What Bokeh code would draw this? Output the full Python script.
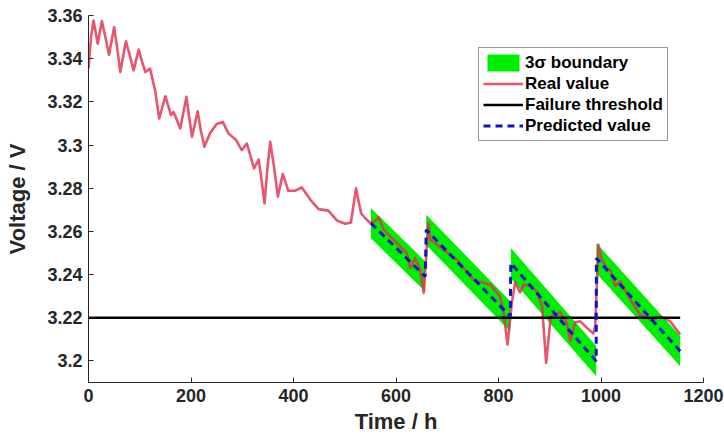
from bokeh.plotting import figure
from bokeh.models import (Range1d, FixedTicker, CustomJSTickFormatter, Legend,
                          LegendItem)
from bokeh.embed import file_html
from bokeh.resources import INLINE

# ---------------- data ----------------
time_real = [0, 5, 9.8, 18, 26, 33, 40, 50, 56, 62, 73, 80, 88, 98, 104, 111, 120,
             130, 138, 150, 161, 166, 170, 179, 191, 197, 202, 213, 219, 226, 237,
             250, 262, 273, 288, 299, 309, 316, 323, 332, 337, 343.5, 349, 354.5,
             362, 369.5, 379, 390, 403, 416, 433, 449, 468, 485, 501, 512, 517, 522,
             527, 532, 540, 550, 563, 566, 576, 602, 621, 628, 637.5, 647, 654, 658,
             663, 667, 690, 719, 751, 784, 803, 810, 817.6, 826, 832.6, 842, 849,
             862, 875, 885, 893, 902, 920, 933.5, 940, 949.6, 959.4, 972.5, 985,
             988.7, 995, 1001.7, 1011.5, 1018, 1027.7, 1037.5, 1057, 1076.5, 1096,
             1115.5, 1135, 1154.5]
volt_real = [3.3354, 3.3500, 3.3577, 3.3469, 3.3574, 3.3500, 3.3418, 3.3546, 3.3450,
             3.3338, 3.3481, 3.3420, 3.3346, 3.3442, 3.3390, 3.3338, 3.3354, 3.3253,
             3.3123, 3.3226, 3.3138, 3.3153, 3.3130, 3.3077, 3.3223, 3.3120, 3.3038,
             3.3156, 3.3070, 3.2992, 3.3054, 3.3097, 3.3107, 3.3054, 3.3023, 3.2976,
             3.3007, 3.2950, 3.2892, 3.2933, 3.2850, 3.2730, 3.2890, 3.3015, 3.2900,
             3.2761, 3.2866, 3.2788, 3.2788, 3.2804, 3.2746, 3.2703, 3.2696, 3.2650,
             3.2635, 3.2641, 3.2720, 3.2800, 3.2740, 3.2684, 3.2661, 3.2638, 3.2656,
             3.2666, 3.2607, 3.2545, 3.2500, 3.2430, 3.2476, 3.2422, 3.2315, 3.2450,
             3.2640, 3.2561, 3.2520, 3.2468, 3.2376, 3.2353, 3.2299, 3.2222, 3.2076,
             3.2268, 3.2364, 3.2317, 3.2353, 3.2348, 3.2322, 3.2253, 3.1991, 3.2206,
             3.2225, 3.2176, 3.2091, 3.2179, 3.2183, 3.2153, 3.2127, 3.2160, 3.2538,
             3.2468, 3.2430, 3.2422, 3.2348, 3.2368, 3.2284, 3.2214, 3.2191, 3.2206,
             3.2183, 3.2122]

time_pred = [551, 657, 659, 823, 824, 990.6, 991, 1154.5]
volt_pred = [3.2638, 3.2391, 3.2607, 3.2206, 3.2453, 3.1999, 3.2476, 3.2045]
sigma3 = 0.007

threshold = 3.22
threshold_span = [0, 1154.5]

x_ticks = [0, 200, 400, 600, 800, 1000, 1200]
y_ticks = [3.2, 3.22, 3.24, 3.26, 3.28, 3.3, 3.32, 3.34, 3.36]

# ---------------- figure ----------------
FONT = "Liberation Sans"
p = figure(width=724, height=436, output_backend="svg", toolbar_location=None,
           x_range=Range1d(0, 1200), y_range=Range1d(3.19, 3.36),
           min_border_left=88, min_border_right=21, min_border_top=15,
           min_border_bottom=53)
p.outline_line_color = None
p.grid.visible = False
p.background_fill_color = "white"

# 3 sigma band per prediction segment
band_xs, band_ys = [], []
for i in range(0, len(time_pred), 2):
    t0, t1 = time_pred[i], time_pred[i + 1]
    v0, v1 = volt_pred[i], volt_pred[i + 1]
    band_xs.append([t0, t1, t1, t0])
    band_ys.append([v0 + sigma3, v1 + sigma3, v1 - sigma3, v0 - sigma3])
band = p.patches(band_xs, band_ys, fill_color="#00ee00", line_color=None)

real = p.line(time_real, volt_real, line_color="#e2304f", line_alpha=0.82,
              line_width=2.6, line_join="round")
thr = p.line(threshold_span, [threshold, threshold], line_color="black",
             line_width=2.5)
pred = p.line(time_pred, volt_pred, line_color="#0a14c8", line_width=3,
              line_dash="7 5")

legend = Legend(items=[LegendItem(label="3σ boundary", renderers=[band]),
                       LegendItem(label="Real value", renderers=[real]),
                       LegendItem(label="Failure threshold", renderers=[thr]),
                       LegendItem(label="Predicted value", renderers=[pred])],
                location=(390, 241))
legend.label_text_font = FONT
legend.label_text_font_style = "bold"
legend.label_text_font_size = "17px"
legend.label_text_color = "black"
legend.glyph_width = 40
legend.glyph_height = 21
legend.label_height = 21
legend.label_standoff = 2
legend.spacing = 0
legend.padding = 4
legend.margin = 0
legend.border_line_color = "#333333"
legend.border_line_width = 1
legend.background_fill_alpha = 1
p.add_layout(legend)

p.xaxis.ticker = FixedTicker(ticks=x_ticks)
p.yaxis.ticker = FixedTicker(ticks=y_ticks)
p.yaxis.formatter = CustomJSTickFormatter(
    code="return tick.toFixed(2).replace(/0$/, '');")

p.xaxis.axis_label = "Time / h"
p.yaxis.axis_label = "Voltage / V"
for ax in (p.xaxis[0], p.yaxis[0]):
    ax.major_tick_in = 5
    ax.major_tick_out = 0
    ax.minor_tick_in = 0
    ax.minor_tick_out = 0
    ax.axis_line_color = "#262626"
    ax.major_tick_line_color = "#262626"
    ax.axis_line_width = 1
    ax.major_label_text_font = FONT
    ax.major_label_text_font_style = "bold"
    ax.major_label_text_font_size = "18px"
    ax.major_label_text_color = "#262626"
    ax.axis_label_text_font = FONT
    ax.axis_label_text_font_style = "bold"
    ax.axis_label_text_font_size = "22px"
    ax.axis_label_text_color = "#262626"
p.xaxis.major_label_standoff = 6
p.xaxis.axis_label_standoff = 4
p.yaxis.major_label_standoff = 6
p.yaxis.axis_label_standoff = 14

open("out.html", "w").write(file_html(p, INLINE))
